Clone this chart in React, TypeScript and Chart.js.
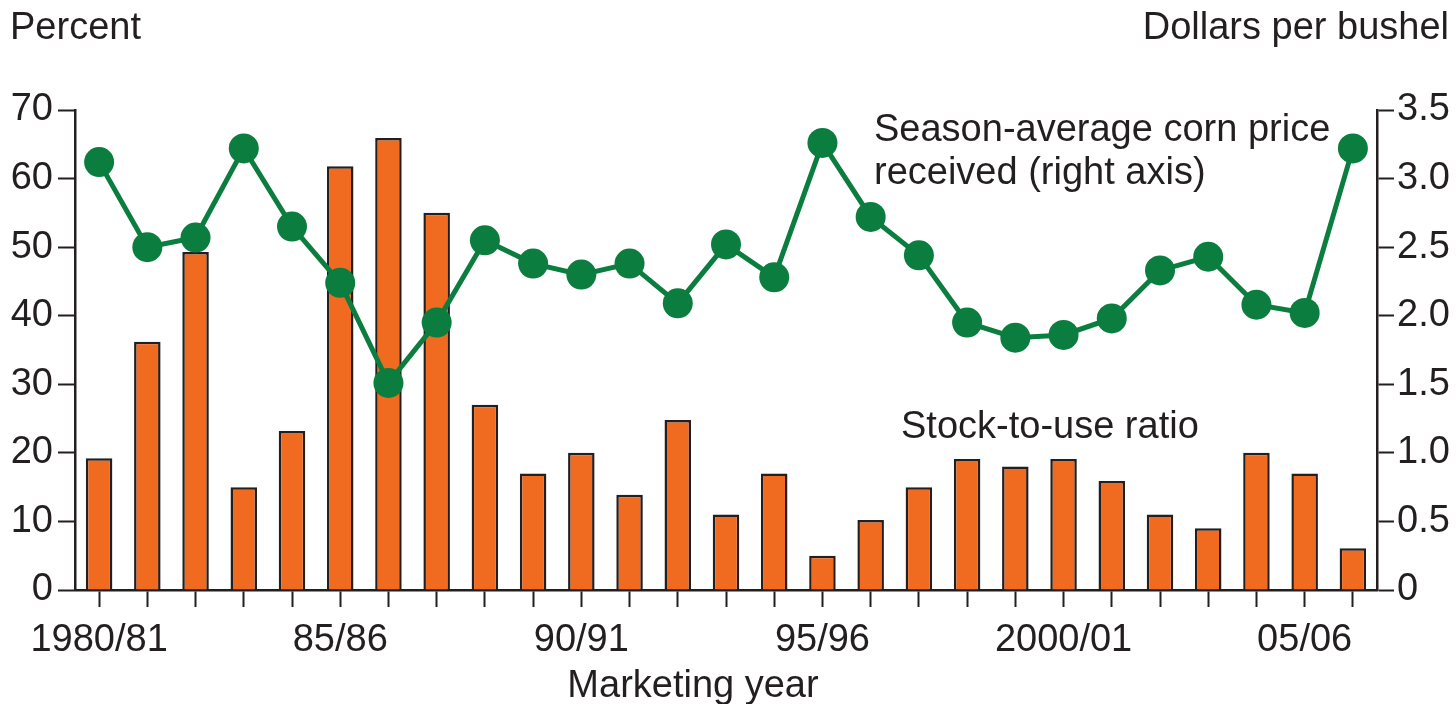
import React, { useEffect, useRef } from "react";
import { Chart, registerables } from "chart.js";

Chart.register(...registerables);

const years: string[] = [
  "1980/81", "81/82", "82/83", "83/84", "84/85", "85/86", "86/87", "87/88", "88/89", "89/90",
  "90/91", "91/92", "92/93", "93/94", "94/95", "95/96", "96/97", "97/98", "98/99", "99/00",
  "2000/01", "01/02", "02/03", "03/04", "04/05", "05/06", "06/07",
];
const stockToUse: number[] = [
  19.2, 36.2, 49.3, 15, 23.2, 61.8, 65.9, 55, 27, 17,
  20, 13.9, 24.8, 11, 17, 5, 10.2, 15, 19.1, 18,
  19.1, 15.9, 11, 9, 20, 17, 6.1,
];
const cornPrice: number[] = [
  3.12, 2.5, 2.57, 3.22, 2.65, 2.24, 1.51, 1.95, 2.55, 2.38,
  2.3, 2.38, 2.09, 2.52, 2.28, 3.26, 2.72, 2.44, 1.95, 1.84,
  1.86, 1.98, 2.33, 2.43, 2.08, 2.02, 3.22,
];
const shownYearLabels: string[] = ["1980/81", "85/86", "90/91", "95/96", "2000/01", "05/06"];
const leftTicks: number[] = [0, 10, 20, 30, 40, 50, 60, 70];
const rightTicks: number[] = [0, 0.5, 1, 1.5, 2, 2.5, 3, 3.5];

const TEXT = "#231f20";
const ORANGE = "#f06a20";
const GREEN = "#0b7d3e";
const FONT = "'Liberation Sans', Arial, sans-serif";
const FS = 38;

const textPlugin = {
  id: "textPlugin",
  afterDraw(chart: any) {
    const ctx = chart.ctx;
    ctx.save();
    ctx.fillStyle = TEXT;
    ctx.font = `${FS}px ${FONT}`;
    ctx.textBaseline = "alphabetic";
    ctx.textAlign = "left";
    ctx.fillText("Percent", 10, 39);
    ctx.textAlign = "right";
    ctx.fillText("Dollars per bushel", 1449, 39);
    ctx.textAlign = "center";
    ctx.fillText("Marketing year", 693, 697);
    ctx.textAlign = "left";
    ctx.fillText("Season-average corn price", 874, 141);
    ctx.fillText("received (right axis)", 874, 184);
    ctx.fillText("Stock-to-use ratio", 901, 438);
    ctx.restore();
  },
};

export default function App() {
  const canvasRef = useRef<HTMLCanvasElement | null>(null);

  useEffect(() => {
    if (!canvasRef.current) return;
    const chart = new Chart(canvasRef.current, {
      type: "bar",
      data: {
        labels: years,
        datasets: [
          {
            type: "line",
            label: "Season-average corn price received (right axis)",
            data: cornPrice,
            yAxisID: "y1",
            borderColor: GREEN,
            backgroundColor: GREEN,
            borderWidth: 5,
            pointRadius: 15,
            pointBorderWidth: 0,
            pointBackgroundColor: GREEN,
            tension: 0,
            order: 0,
            clip: false as any,
          },
          {
            type: "bar",
            label: "Stock-to-use ratio",
            data: stockToUse,
            yAxisID: "y",
            backgroundColor: ORANGE,
            borderColor: TEXT,
            borderWidth: 2.5,
            borderSkipped: "bottom",
            categoryPercentage: 1,
            barPercentage: 0.55,
            order: 1,
          },
        ],
      },
      options: {
        animation: false,
        responsive: false,
        maintainAspectRatio: false,
        layout: { padding: { top: 110, bottom: 0, left: 0, right: 0 } },
        plugins: {
          legend: { display: false },
          tooltip: { enabled: false },
        },
        scales: {
          x: {
            offset: true,
            grid: {
              display: true,
              drawOnChartArea: false,
              drawTicks: true,
              tickLength: 17,
              tickWidth: 2,
              tickColor: TEXT,
              offset: false,
            },
            border: { display: true, color: TEXT, width: 2.5 },
            ticks: {
              autoSkip: false,
              maxRotation: 0,
              minRotation: 0,
              padding: 11,
              color: TEXT,
              font: { family: FONT, size: FS },
              callback: (_v: any, i: number) => (shownYearLabels.includes(years[i]) ? years[i] : ""),
            },
            afterFit: (scale: any) => {
              scale.height = 114;
            },
          },
          y: {
            position: "left",
            min: 0,
            max: 70,
            afterBuildTicks: (scale: any) => {
              scale.ticks = leftTicks.map((v) => ({ value: v }));
            },
            grid: {
              drawOnChartArea: false,
              tickLength: 17,
              tickWidth: 2,
              tickColor: TEXT,
            },
            border: { display: true, color: TEXT, width: 2.5 },
            ticks: {
              padding: 5,
              color: TEXT,
              font: { family: FONT, size: FS },
            },
            afterFit: (scale: any) => {
              scale.width = 75;
            },
          },
          y1: {
            position: "right",
            min: 0,
            max: 3.5,
            afterBuildTicks: (scale: any) => {
              scale.ticks = rightTicks.map((v) => ({ value: v }));
            },
            grid: {
              drawOnChartArea: false,
              tickLength: 17,
              tickWidth: 2,
              tickColor: TEXT,
            },
            border: { display: true, color: TEXT, width: 2.5 },
            ticks: {
              padding: 3,
              color: TEXT,
              font: { family: FONT, size: FS },
              callback: (v: any) => (v === 0 ? "0" : Number(v).toFixed(1)),
            },
            afterFit: (scale: any) => {
              scale.width = 79;
            },
          },
        },
      },
      plugins: [textPlugin],
    });
    return () => chart.destroy();
  }, []);

  return (
    <div style={{ position: "fixed", left: 0, top: 0, width: 1456, height: 704, background: "#fff" }}>
      <canvas ref={canvasRef} width={1456} height={704} style={{ width: 1456, height: 704 }} />
    </div>
  );
}
